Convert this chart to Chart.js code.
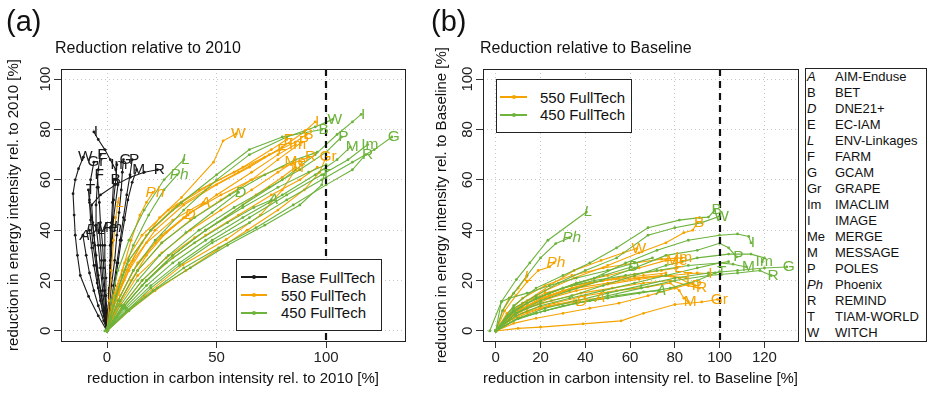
<!DOCTYPE html>
<html><head><meta charset="utf-8">
<script src="https://cdn.jsdelivr.net/npm/chart.js@4/dist/chart.umd.min.js"></script>
<style>
html,body{margin:0;padding:0;background:#fff}
body{width:929px;height:393px;overflow:hidden;position:relative;font-family:"Liberation Sans",Arial,sans-serif;color:#111}
.abs{position:absolute;white-space:nowrap}
canvas{position:absolute;top:0}
</style></head><body>
<canvas id="ca" width="420" height="393" style="left:0"></canvas>
<canvas id="cb" width="385" height="393" style="left:420px"></canvas>
<div id="overlay"></div>
<script>
// ---------- data ----------
const modelCodes = ["A","B","D","E","L","F","G","Gr","Im","I","Me","M","P","Ph","R","T","W"];
const modelNames = ["AIM-Enduse","BET","DNE21+","EC-IAM","ENV-Linkages","FARM","GCAM","GRAPE","IMACLIM","IMAGE","MERGE","MESSAGE","POLES","Phoenix","REMIND","TIAM-WORLD","WITCH"];
const italicCodes = ["A","D","L","Ph"];
const seriesNames = ["Base FullTech","550 FullTech","450 FullTech"];
const xTicksA = [0,50,100];
const xTicksB = [0,20,40,60,80,100,120];
const yTicks = [0,20,40,60,80,100];
const refCarbon = 100;

// trajectories: [model code, [x0,y0,x1,y1,...], label shown]
// panel (a): reduction relative to 2010
const baseA = [
 ["I",[0,0, 1,15, 2,30, 3,45, 5,58, 4,64, 1.5,68, -1,72, -4,76, -6,79],1],
 ["W",[0,0, -4,6, -8.4,13.7, -12.2,22, -13.5,30, -14.5,38, -15,46, -15.5,54.5, -14.5,60, -13,64.4, -10.8,69],1],
 ["E",[0,0, -1,8, -2,16, -3,25, -4,34, -5,42, -5,50, -4.5,57, -4,64, -3,70],1],
 ["Gr",[0,0, -2,8, -4,17, -5,26, -6.5,35, -7.5,44, -8,52, -7.5,60, -6,67],1],
 ["Im",[0,0, 0.5,8, 1,17, 1.5,26, 2,35, 2.5,44, 3,52, 4,60, 4.5,66],1],
 ["G",[0,0, 1,9, 2,18, 3.5,28, 4.5,38, 5.5,47, 6.5,56, 7,63, 7.5,68],1],
 ["P",[0,0, 1.5,9, 3,18, 4.5,27, 6,36, 7.5,45, 9,54, 10.5,62, 11.5,68],1],
 ["M",[0,0, 2,9, 3.5,18, 5,27, 6.5,36, 8,44, 9.5,52, 11.5,59, 13.5,64],1],
 ["R",[0,0, -1.5,8, -3,16, -4.5,25, -5.5,34, -6.5,43, -7,50, -3,54, 3.8,58, 10.6,61, 17,63, 23,64],1],
 ["F",[0,0, -0.5,8, -1,16, -1.5,25, -2,34, -3,43, -3.5,51, -4,57, -4.5,62],1],
 ["B",[0,0, 0.5,8, 1,16, 1.5,25, 1.5,34, 2,43, 2.5,51, 3,60],1],
 ["T",[0,0, -1,7, -2.5,14, -4,22, -5,30, -6,38, -7,45, -8,51, -8.5,56],1],
 ["A",[0,0, -1.5,4, -4,10, -6,16, -8,23, -9.5,30, -11,38],1],
 ["D",[0,0, -1.5,6, -3,12, -4.5,19, -6,26, -7,33, -8,40],1],
 ["L",[0,0, -0.5,7, -1,14, -2,21, -2.5,28, -3,34, -3.5,40],1],
 ["Me",[0,0, 0,7, -0.5,14, -0.5,21, -1,28, -1,34, -1,41],1],
 ["Ph",[0,0, 0.5,7, 1,14, 1.5,21, 1.5,28, 1.5,34, 1.5,41],1]
];
const s550A = [
 ["W",[0,0, 4,12, 9,24, 16,35, 24,45, 34,53, 48.6,67, 53,75.5, 59,78.3],1],
 ["I",[0,0, 5,15, 12,28, 22,40, 35,50, 50,58, 65,65, 80,73, 90,79, 95,83],1],
 ["E",[0,0, 4,15, 10,28, 20,40, 32,50, 47,58, 62,65, 75,72, 82,76],1],
 ["B",[0,0, 3,14, 8,27, 16,38, 28,48, 42,56, 58,63, 74,70, 86,75, 91,78],1],
 ["Im",[0,0, 5,12, 12,24, 22,35, 35,45, 50,54, 66,63, 78,70, 86,74],1],
 ["F",[0,0, 4,13, 10,26, 18,38, 30,48, 45,56, 60,63, 72,69, 79,72],1],
 ["P",[0,0, 6,12, 14,24, 25,35, 38,44, 52,52, 66,60, 78,68, 89,75],1],
 ["M",[0,0, 7,10, 16,20, 27,29, 40,37, 54,45, 68,54, 80,61, 86,65],1],
 ["Me",[0,0, 6,11, 14,22, 25,31, 38,40, 52,48, 66,56, 78,63, 85,67],1],
 ["R",[0,0, 6,14, 14,27, 25,38, 38,47, 52,54, 66,60, 80,65, 92,69],1],
 ["Gr",[0,0, 10,8, 22,16, 36,24, 50,32, 64,40, 78,48, 90,56, 97,63, 100,69],1],
 ["T",[0,0, 17,13.9, 34.7,26.3, 54.4,36.3, 70,46, 80,56, 86,64],0],
 ["G",[0,0, 8,10, 18,20, 30,29, 45,38, 60,46, 75,54, 88,60, 96,65],0],
 ["Ph",[0,0, 3,12, 7,24, 11,36, 15,46, 18,51, 21,55],1],
 ["L",[0,0, 1,12, 2,24, 3,36, 4,45, 5,51],1],
 ["D",[0,0, 5,10, 11,20, 18,30, 27,39, 37,46],1],
 ["A",[0,0, 4,12, 10,24, 18,35, 30,44, 44,51],1]
];
const s450A = [
 ["L",[0,0, 2,12, 5,24, 10,36, 17,48, 26,60, 35,68],1],
 ["Ph",[0,0, 3,10, 7,22, 12,34, 19,46, 26,56, 32,62],1],
 ["D",[0,0, 6,10, 14,20, 24,30, 36,39, 48,47, 60,55],1],
 ["A",[0,0, 7,9, 16,18, 27,27, 40,35, 55,43, 67,49, 75,52],1],
 ["W",[0,0, 5,12, 12,24, 22,36, 35,48, 50,60, 65,70, 82,77, 95,81, 103,84],1],
 ["B",[0,0, 4,14, 10,28, 20,40, 34,51, 50,62, 65,72, 80,77, 98,80],1],
 ["I",[0,0, 8,10, 18,20, 30,30, 45,40, 62,50, 80,60, 95,70, 105,78, 112,83, 116,86],1],
 ["P",[0,0, 7,10, 16,20, 28,30, 42,40, 58,49, 74,57, 88,64, 100,71, 107,77],1],
 ["M",[0,0, 8,9, 18,18, 30,27, 45,36, 62,45, 80,54, 95,62, 105,68, 111,73],1],
 ["Im",[0,0, 9,9, 20,18, 33,27, 48,36, 65,45, 82,54, 98,62, 110,68, 119,74],1],
 ["G",[0,0, 9,8, 20,17, 33,26, 48,35, 65,43, 82,52, 98,60, 112,67, 122,72, 130,77],1],
 ["R",[0,0, 9,8, 21,16, 35,25, 51,33, 68,41, 85,50, 100,58, 112,64, 118,70],1],
 ["Gr",[0,0, 8,10, 18,20, 30,30, 45,40, 62,49, 78,57, 92,63, 100,66],0],
 ["T",[0,0, 10,8, 23,17, 38,25, 55,34, 72,42, 88,50, 98,58, 99,62],1],
 ["Me",[-1,0, 6,12, 14,24, 25,35, 40,45, 56,54, 72,62, 86,68, 96,71],0]
];
// panel (b): reduction relative to Baseline
const s550B = [
 ["Ph",[0,0, 4,8, 9,14, 14,19.5, 19,24, 24,25.4, 26,27],1],
 ["L",[0,0, 3,8, 6,13, 10,17, 13.7,21.5],1],
 ["D",[0,0, 5,4, 12,7, 20,9, 28,10.5, 37.5,11.6],1],
 ["A",[0,0, 6,4, 14,7, 24,10, 35,12, 45.7,13],1],
 ["W",[0,0, 6,6, 14,12, 24,18, 35,24, 47,28, 57,31, 63,32.7],1],
 ["B",[0,0, 5,6, 12,11, 22,16, 35,21, 50,26, 64,31, 76,35, 84,39, 88,40, 90,43],1],
 ["Im",[0,0, 5,7, 12,13, 22,18, 34,22, 48,25, 62,27, 74,28.5, 83,29],1],
 ["Me",[0,0, 6,6, 14,11, 24,15, 36,19, 50,22, 64,25, 76,28, 80,28],1],
 ["E",[0,0, 5,5, 12,9, 22,13, 34,17, 48,20, 62,22.5, 74,24, 81,25],1],
 ["T",[0,0, 6,5, 14,10, 24,14, 36,17, 50,19, 64,21, 76,22, 85,21],1],
 ["I",[0,0, 6,5, 14,9, 24,13, 36,16, 50,18.5, 64,20.5, 78,22, 90,23, 95,22.8],1],
 ["P",[0,0, 5,6, 12,11, 22,15, 34,18, 48,20, 62,21, 74,22, 82,21, 86,19, 89,18],1],
 ["R",[0,0, 6,5, 14,9, 25,12, 38,15, 52,17, 66,19, 78,20, 86,18, 91,17],1],
 ["M",[0,0, 6,4, 14,8, 26,11, 40,14, 54,16, 68,17.5, 78,19, 82,16, 84,13, 86,11.6],1],
 ["Gr",[0,0, 10,1, 20,1.5, 39,2.8, 56,4, 66,7, 80,10.5, 92,11.5, 99,12.5],1],
 ["G",[0,0, 8,3, 18,5, 30,7, 42,9, 55,11, 68,14, 80,17, 88,19],0],
 ["F",[0,0, 5,5, 12,9, 20,13, 30,16, 42,19, 55,21, 66,22, 76,23],0]
];
const s450B = [
 ["L",[-2.7,0, 2.5,11.6, 9.2,20.4, 15.2,27, 23.3,36, 40.5,47.2],1],
 ["Ph",[0,0, 3,8, 8,15, 14,22, 20,29, 26.8,34.7, 33,37],1],
 ["B",[0,0, 8,10, 18,17, 30,22, 42,27, 54,33, 68,41, 82,44, 91,45, 95,45.2, 97.8,48],1],
 ["W",[0,0, 8,9, 18,14, 28,19, 40,24, 54,29, 68,38, 80,41, 92,43, 100,45.5],1],
 ["I",[0,0, 8,8, 18,13, 30,17, 44,21, 58,27, 72,32, 86,36, 100,38, 108,38.5, 113,37.5, 114,35],1],
 ["P",[0,0, 9,7, 20,12, 33,16, 47,20, 62,25, 76,30, 90,32, 100,34.8, 104,33, 107.5,29.4],1],
 ["M",[0,0, 9,6, 20,10, 33,13, 48,16, 62,19, 76,22, 90,25, 100,27, 106,26.5, 112,25.4],1],
 ["Im",[0,0, 9,7, 20,11, 34,14, 48,18, 62,22, 76,26, 90,29, 104,30.5, 114,30.5, 120,29, 119,27.4],1],
 ["G",[0,0, 10,5, 22,9, 36,12, 50,15, 65,18, 80,21, 95,23, 108,24, 120,25, 130,25.4],1],
 ["R",[0,0, 10,5, 22,8, 36,11, 50,14, 65,17, 80,20, 95,22, 108,23, 118,24, 123,22],1],
 ["T",[0,0, 10,5, 22,8, 36,11, 50,13, 64,15, 78,17, 90,20, 98,23, 100,23.5],1],
 ["A",[0,0, 8,4, 18,7, 30,10, 42,12, 54,14, 66,15.5, 73,16],1],
 ["D",[0,0, 6,6, 14,11, 24,15, 36,19, 48,22, 60.6,25.4],1],
 ["F",[0,0, 2.5,11.6, 6,13, 14,15, 24,18, 36,21, 50,24, 62,27, 70,29],0],
 ["Gr",[0,0, 8,8, 18,13, 30,17, 44,20, 58,22, 72,24, 86,26, 100,27, 104,27.5],0]
];

// ---------- styling ----------
const FF = '"Liberation Sans", Arial, sans-serif';
const COLORS = ["#1a1a1a","#F5A300","#6DB33C"];

function toDatasets(traj, colorIdx){
  return traj.map(([code, flat, show]) => {
    const pts = [];
    for (let i=0;i<flat.length;i+=2) pts.push({x:flat[i], y:flat[i+1]});
    return {data:pts, lbl: show ? code : "", borderColor:COLORS[colorIdx], backgroundColor:COLORS[colorIdx],
      showLine:true, borderWidth:1.1, pointRadius:1.4, pointBorderWidth:0, pointHoverRadius:0,
      order: 3-colorIdx, tension:0};
  });
}

const labelPlugin = {
  id:'lbls',
  afterDatasetsDraw(chart){
    const ctx = chart.ctx;
    chart.data.datasets.forEach((ds,i)=>{
      if(!ds.lbl) return;
      const meta = chart.getDatasetMeta(i);
      const p = meta.data[meta.data.length-1];
      ctx.save();
      ctx.font = (italicCodes.includes(ds.lbl)?'italic ':'') + '15.5px ' + FF;
      ctx.fillStyle = ds.borderColor; ctx.textAlign='center'; ctx.textBaseline='middle';
      ctx.fillText(ds.lbl, p.x+2, p.y);
      ctx.restore();
    });
  }
};
const framePlugin = {
  id:'frame',
  afterDatasetsDraw(chart){
    const {ctx, chartArea:a, scales} = chart;
    ctx.save();
    const xp = Math.round(scales.x.getPixelForValue(refCarbon));
    ctx.strokeStyle='#111'; ctx.lineWidth=2.2; ctx.setLineDash([7,5]);
    ctx.beginPath(); ctx.moveTo(xp, a.top); ctx.lineTo(xp, a.bottom); ctx.stroke();
    ctx.setLineDash([]); ctx.lineWidth=1; ctx.strokeStyle='#222';
    ctx.strokeRect(Math.round(a.left)+0.5, Math.round(a.top)+0.5, Math.round(a.right-a.left), Math.round(a.bottom-a.top));
    ctx.restore();
  }
};

function makeChart(id, datasets, xmin, xmax, xt, xTitle, yTitle, yW, padRight, yTitlePad){
  return new Chart(document.getElementById(id), {
    type:'scatter',
    data:{datasets},
    plugins:[framePlugin, labelPlugin],
    options:{
      responsive:false, animation:false, devicePixelRatio:1,
      layout:{padding:{left:0,top:69,right:padRight,bottom:0}},
      plugins:{legend:{display:false}, tooltip:{enabled:false}},
      events:[],
      scales:{
        x:{type:'linear', min:xmin, max:xmax,
          afterBuildTicks:s=>{ s.ticks = xt.map(v=>({value:v})); },
          afterFit:s=>{ s.height = 52; },
          ticks:{font:{size:15,family:FF}, color:'#222', padding:1, maxRotation:0, autoSkip:false},
          grid:{color:'#c8c8c8', lineWidth:1, tickLength:7, tickColor:'#333', tickWidth:1},
          border:{display:false, dash:[1,3]},
          title:{display:true, text:xTitle, font:{size:15,family:FF}, color:'#111', padding:{top:0,bottom:5}}
        },
        y:{type:'linear', min:-4, max:104,
          afterBuildTicks:s=>{ s.ticks = yTicks.map(v=>({value:v})); },
          afterFit:s=>{ s.width = yW; },
          ticks:{font:{size:15,family:FF}, color:'#222', padding:-4, minRotation:90, maxRotation:90, crossAlign:'center', autoSkip:false},
          grid:{color:'#c8c8c8', lineWidth:1, tickLength:7, tickColor:'#333', tickWidth:1},
          border:{display:false, dash:[1,3]},
          title:{display:true, text:yTitle, font:{size:15,family:FF}, color:'#111', padding:{top:yTitlePad,bottom:0}}
        }
      }
    }
  });
}

makeChart('ca', [...toDatasets(baseA,0), ...toDatasets(s550A,1), ...toDatasets(s450A,2)],
  -21, 136, xTicksA, "reduction in carbon intensity rel. to 2010 [%]", "reduction in energy intensity rel. to 2010 [%]", 61, 15, 5);
makeChart('cb', [...toDatasets(s550B,1), ...toDatasets(s450B,2)],
  -5.7, 135, xTicksB, "reduction in carbon intensity rel. to Baseline [%]", "reduction in energy intensity rel. to Baseline [%]", 63, 7, 13);

// ---------- text overlays ----------
const ov = document.getElementById('overlay');
function add(html, css){ const d=document.createElement('div'); d.className='abs'; d.style.cssText=css; d.innerHTML=html; ov.appendChild(d); return d; }
add('(a)', 'left:6px;top:4px;font-size:29px;line-height:34px');
add('(b)', 'left:431px;top:4px;font-size:29px;line-height:34px');
add('Reduction relative to 2010', 'left:55px;top:39px;font-size:16px;line-height:18px');
add('Reduction relative to Baseline', 'left:480px;top:39px;font-size:16px;line-height:18px');

function legend(box, rows){
  add('', `left:${box[0]}px;top:${box[1]}px;width:${box[2]}px;height:${box[3]}px;border:1px solid #222;background:#fff;box-sizing:border-box`);
  rows.forEach(r=>{
    add('', `left:${r.lx}px;top:${r.ly-1}px;width:${r.lw}px;height:2px;background:${r.c}`);
    add('', `left:${r.lx+r.lw/2-2}px;top:${r.ly-2}px;width:4px;height:4px;border-radius:2px;background:${r.c}`);
    add(r.t, `left:${r.tx}px;top:${r.ty}px;font-size:15px;line-height:18px`);
  });
}
legend([236,259,146,72], [
  {t:seriesNames[0], c:COLORS[0], lx:241, lw:26, ly:277, tx:281, ty:268.5},
  {t:seriesNames[1], c:COLORS[1], lx:241, lw:26, ly:295, tx:281, ty:286.8},
  {t:seriesNames[2], c:COLORS[2], lx:241, lw:26, ly:313, tx:281, ty:303.5}
]);
legend([496,79,136,54], [
  {t:seriesNames[1], c:COLORS[1], lx:500, lw:27, ly:97, tx:540, ty:88.5},
  {t:seriesNames[2], c:COLORS[2], lx:500, lw:27, ly:115, tx:540, ty:106}
]);

// model key
add('', 'left:805px;top:68px;width:122px;height:274px;border:1px solid #222;box-sizing:border-box');
modelCodes.forEach((c,i)=>{
  const top = 69.2 + i*15.96;
  add(c, `left:807px;top:${top}px;font-size:13px;line-height:16px;${italicCodes.includes(c)?'font-style:italic;':''}`);
  add(modelNames[i], `left:835px;top:${top}px;font-size:13px;line-height:16px`);
});
</script>
</body></html>
